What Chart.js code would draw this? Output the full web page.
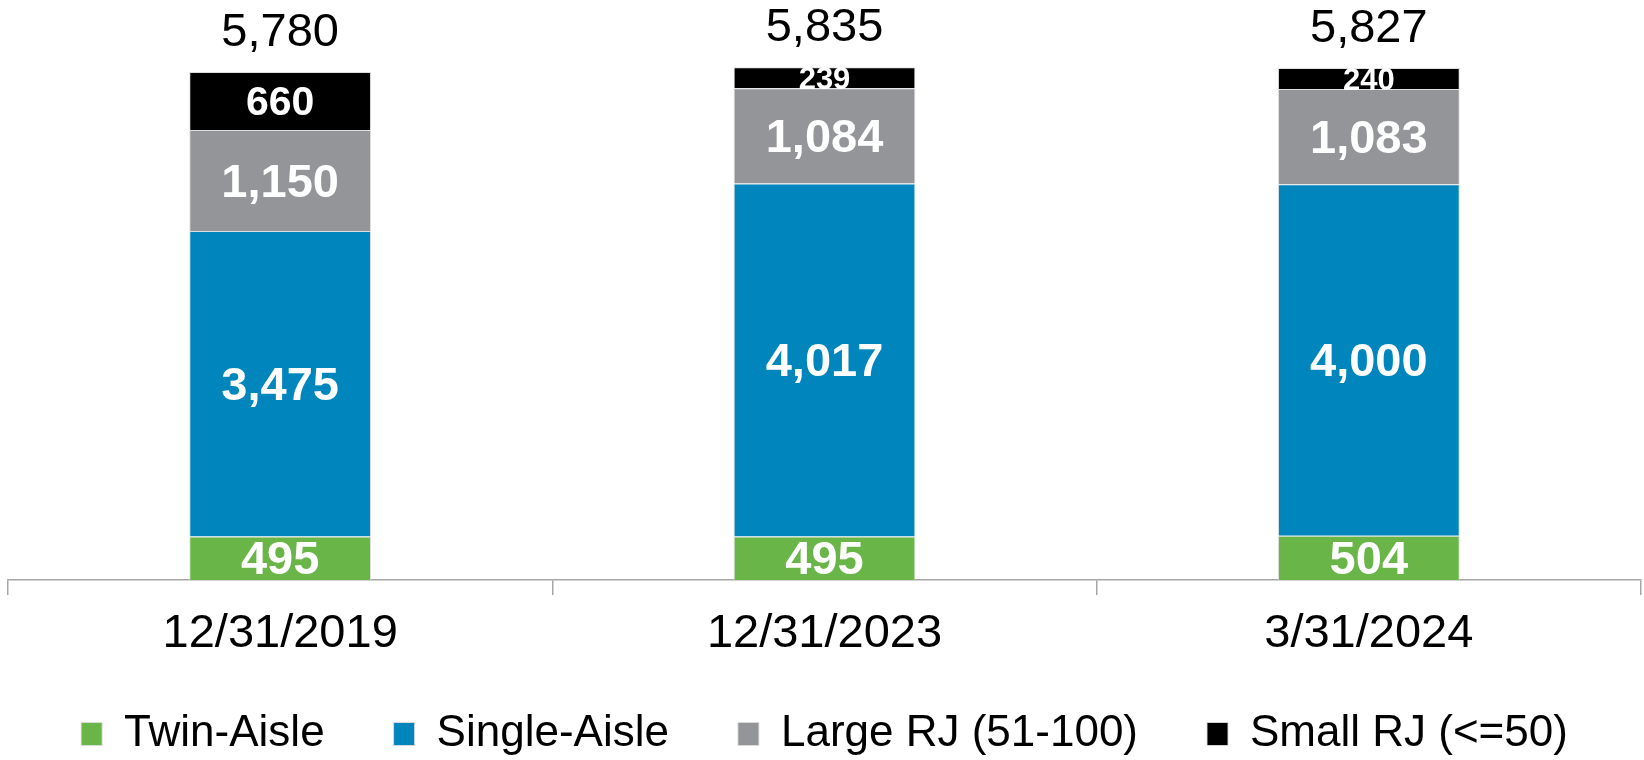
<!DOCTYPE html>
<html>
<head>
<meta charset="utf-8">
<script src="https://cdn.jsdelivr.net/npm/chart.js@4.4.1/dist/chart.umd.min.js"></script>
<style>
  html, body { margin: 0; padding: 0; background: #fff; }
  #wrap { width: 1644px; height: 760px; }
</style>
</head>
<body>
<div id="wrap"><canvas id="fleet" width="1644" height="760"></canvas></div>
<script>
const categories = ['12/31/2019', '12/31/2023', '3/31/2024'];
const twinAisle = [495, 495, 504];
const singleAisle = [3475, 4017, 4000];
const largeRJ = [1150, 1084, 1083];
const smallRJ = [660, 239, 240];

const FONT = "'Liberation Sans', Arial, sans-serif";
const fmt = v => v.toLocaleString('en-US');

// segment labels (white, bold) + totals above the stack
const labelsPlugin = {
  id: 'stackLabels',
  afterDatasetsDraw(chart) {
    const ctx = chart.ctx;
    ctx.save();
    ctx.textAlign = 'center';
    ctx.fillStyle = '#fff';
    chart.data.datasets.forEach((ds, di) => {
      const meta = chart.getDatasetMeta(di);
      meta.data.forEach((bar, i) => {
        const h = Math.abs(bar.base - bar.y);
        let size = 47;
        if (ds.label.startsWith('Small')) size = h > 40 ? 41 : 31;
        ctx.font = `bold ${size}px ${FONT}`;
        ctx.textBaseline = 'middle';
        ctx.fillText(fmt(ds.data[i]), bar.x, (bar.y + bar.base) / 2 + 3);
      });
    });
    // totals
    const last = chart.getDatasetMeta(chart.data.datasets.length - 1);
    ctx.fillStyle = '#000';
    ctx.font = `47px ${FONT}`;
    ctx.textBaseline = 'alphabetic';
    last.data.forEach((bar, i) => {
      const total = twinAisle[i] + singleAisle[i] + largeRJ[i] + smallRJ[i];
      ctx.fillText(fmt(total), bar.x, bar.y - 26);
    });
    ctx.restore();
  }
};

// keep the legend row low without reserving its full padding height
const legendFitPlugin = {
  id: 'legendFit',
  beforeUpdate(chart) {
    const lg = chart.legend;
    if (lg && !lg._patched) {
      const orig = lg.fit;
      lg.fit = function () { orig.call(this); this.height = 117; };
      lg._patched = true;
    }
  },
  afterLayout(chart) {
    // let the date labels run below the (short) axis box instead of being clipped
    chart.scales.x.bottom = chart.height;
  }
};

const ds = (label, data, color) => ({
  label, data,
  backgroundColor: color,
  borderColor: 'rgba(220,220,220,0.9)',
  borderWidth: 1,
  barPercentage: 1,
  categoryPercentage: 0.334
});

new Chart(document.getElementById('fleet'), {
  type: 'bar',
  data: {
    labels: categories,
    datasets: [
      ds('Twin-Aisle', twinAisle, '#6ab547'),
      ds('Single-Aisle', singleAisle, '#0085bd'),
      ds('Large RJ (51-100)', largeRJ, '#939598'),
      ds('Small RJ (<=50)', smallRJ, '#000000'),
    ],
  },
  options: {
    responsive: false,
    animation: false,
    layout: { padding: { left: 8, right: 3, top: 0, bottom: 0 } },
    plugins: {
      tooltip: { enabled: false },
      legend: {
        position: 'bottom',
        labels: {
          color: '#000',
          font: { family: FONT, size: 44 },
          boxWidth: 21,
          boxHeight: 23,
          padding: 69,
        },
      },
    },
    scales: {
      x: {
        stacked: true,
        afterFit(scale) { scale.height = 63; },
        grid: {
          offset: true,
          drawOnChartArea: false,
          tickLength: 15,
          color: '#a6a6a6',
          lineWidth: 1.5,
        },
        border: { display: true, color: '#a6a6a6', width: 1.5 },
        ticks: { color: '#000', padding: 11, font: { family: FONT, size: 47 } },
      },
      y: {
        stacked: true,
        display: false,
        min: 0,
        max: 6600,
      },
    },
  },
  plugins: [labelsPlugin, legendFitPlugin],
});
</script>
</body>
</html>
